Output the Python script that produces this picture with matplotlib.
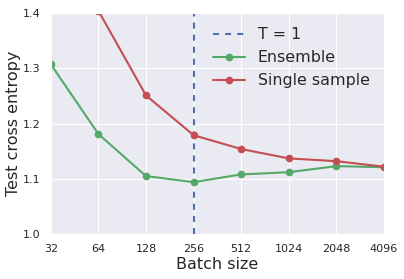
import matplotlib
matplotlib.use("Agg")
import matplotlib.pyplot as plt
import seaborn as sns

sns.set_style("darkgrid")

# batch sizes and test cross entropy
batch_sizes = [32, 64, 128, 256, 512, 1024, 2048, 4096]
ensemble = [1.307, 1.181, 1.105, 1.094, 1.108, 1.112, 1.123, 1.121]
single_batches = [64, 128, 256, 512, 1024, 2048, 4096]
single_sample = [1.404, 1.251, 1.179, 1.154, 1.137, 1.132, 1.122]
t1_batch = 256

fig = plt.figure(figsize=(4.04, 2.79), dpi=100)
ax = fig.add_axes([0.126, 0.161, 0.824, 0.792])

ax.axvline(t1_batch, color="#4C72B0", linestyle=(0, (2.9, 2.9)), linewidth=1.5, label="T = 1")
ax.plot(batch_sizes, ensemble, "-o", color="#55A868", linewidth=1.5, markersize=4.5, label="Ensemble")
ax.plot(single_batches, single_sample, "-o", color="#C44E52", linewidth=1.5, markersize=4.5, label="Single sample")

ax.set_xscale("log", base=2)
ax.set_xlim(32, 4096)
ax.set_ylim(1.0, 1.4)
ax.set_xticks(batch_sizes)
ax.set_xticklabels([str(b) for b in batch_sizes])
ax.minorticks_off()
ax.set_yticks([1.0, 1.1, 1.2, 1.3, 1.4])
ax.tick_params(labelsize=8, colors="#262626", pad=4)
ax.set_xlabel("Batch size", fontsize=11.5, color="#262626", labelpad=2)
ax.set_ylabel("Test cross entropy", fontsize=11.5, color="#262626")
ax.yaxis.set_label_coords(-0.09, 0.5)
ax.legend(loc="upper right", fontsize=11.4, frameon=False)

fig.savefig("out.png", dpi=100)
